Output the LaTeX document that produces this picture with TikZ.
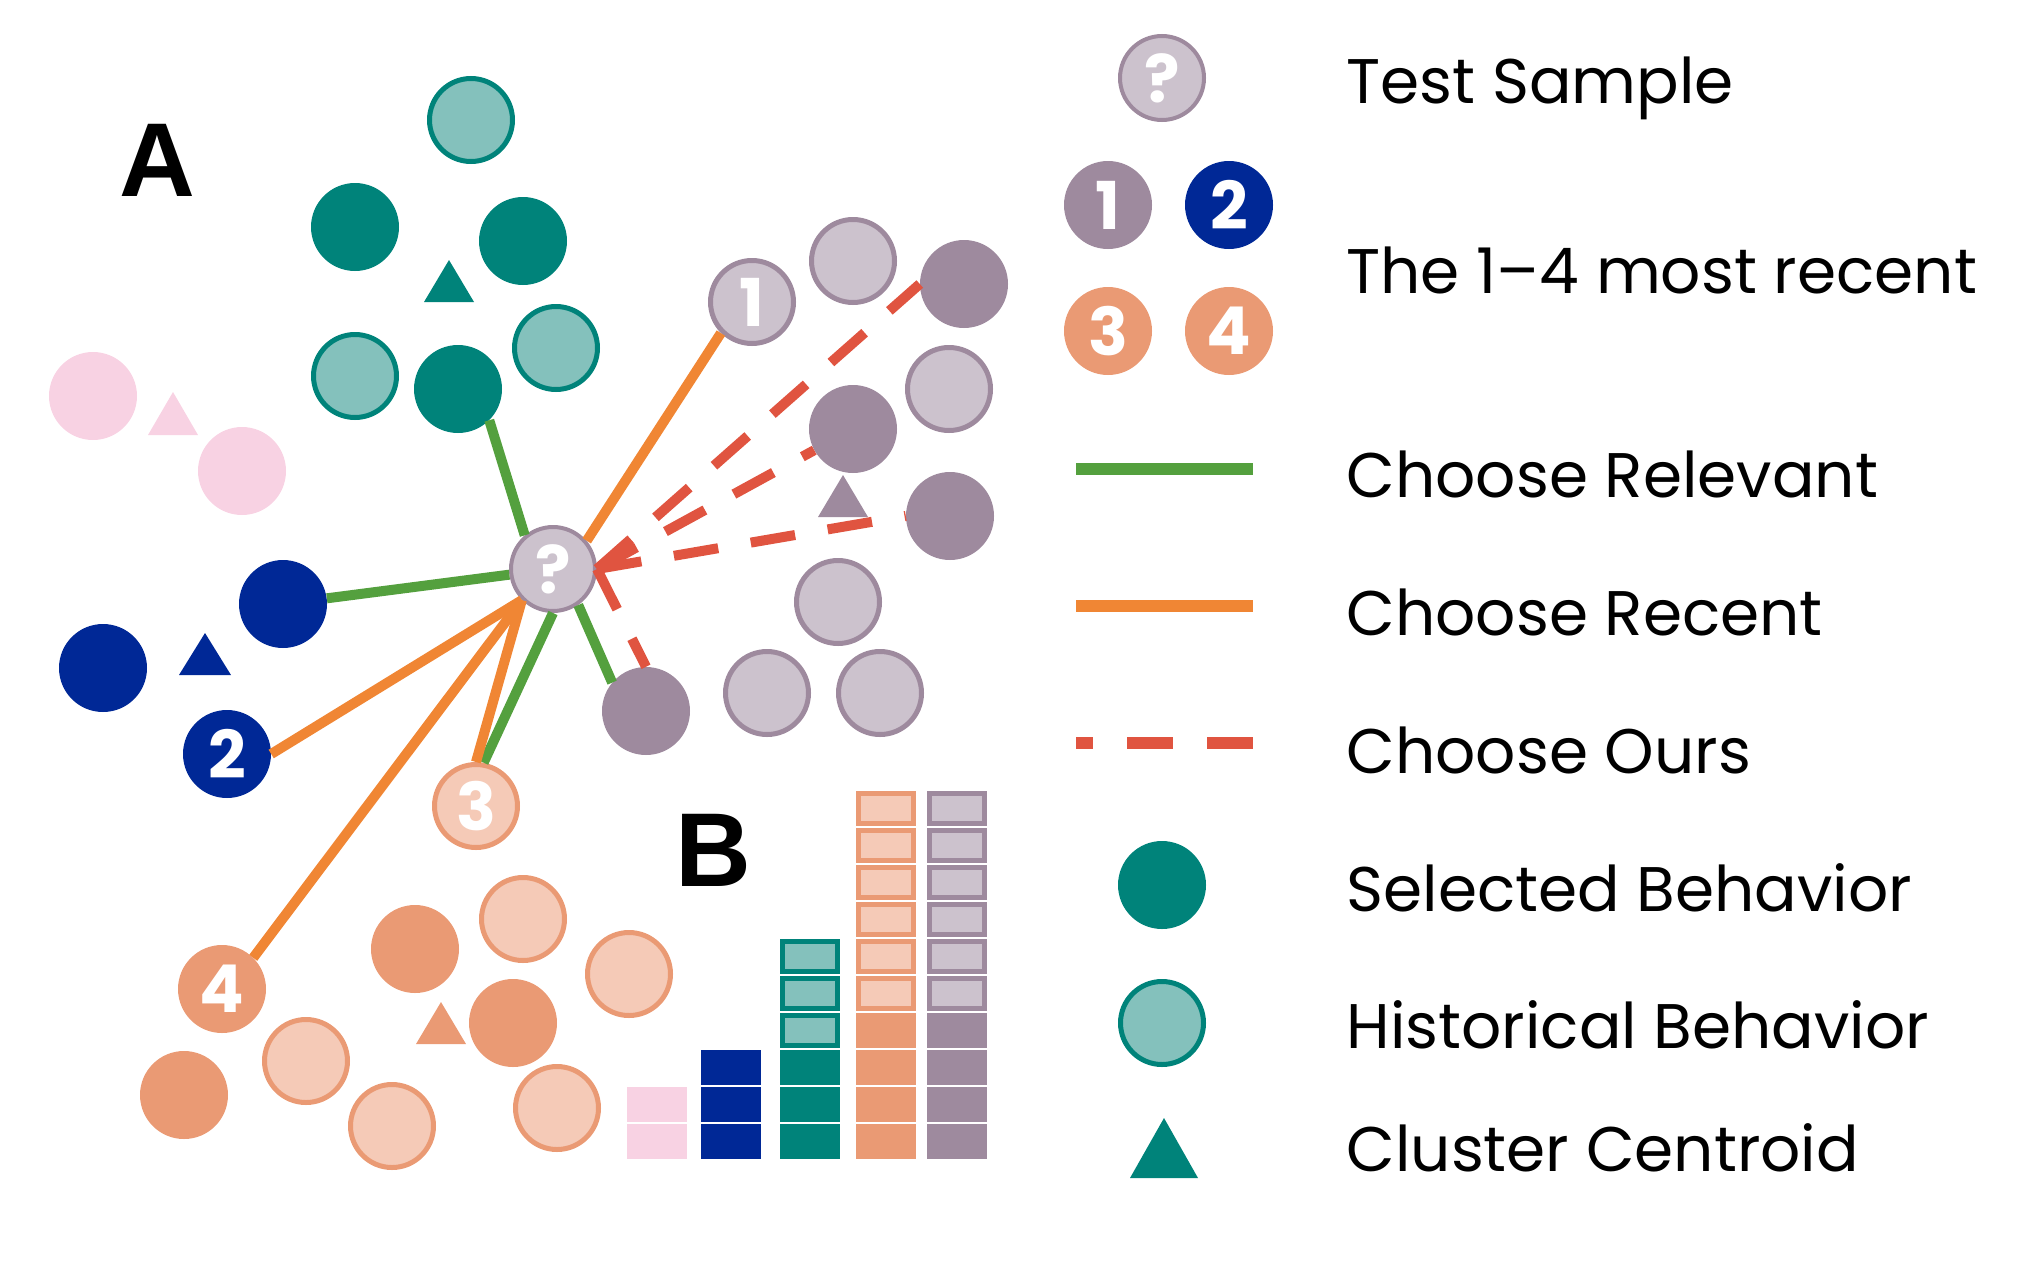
\documentclass[tikz,border=0pt]{standalone}
\usepackage{fontspec}
\setmainfont{Poppins}
\newfontfamily\panelfont{Liberation Sans}
\definecolor{tealsel}{RGB}{0,131,122}
\definecolor{tealhist}{RGB}{132,193,188}
\definecolor{pinkhist}{RGB}{248,210,227}
\definecolor{bluesel}{RGB}{0,40,150}
\definecolor{graysel}{RGB}{158,138,158}
\definecolor{grayhist}{RGB}{204,194,205}
\definecolor{orangesel}{RGB}{234,154,116}
\definecolor{orangehist}{RGB}{245,202,183}
\definecolor{relgreen}{RGB}{84,160,62}
\definecolor{recorange}{RGB}{240,134,52}
\definecolor{oursred}{RGB}{224,84,64}
\begin{document}
\begin{tikzpicture}[x=1pt,y=-1pt,
    sel/.style={circle,fill=#1,minimum size=88pt,inner sep=0pt,text=white,
      font=\fontsize{66}{66}\selectfont\bfseries},
    hist/.style 2 args={circle,fill=#1,draw=#2,line width=5pt,minimum size=83pt,
      inner sep=0pt,text=white,font=\fontsize{66}{66}\selectfont\bfseries},
    relevant/.style={relgreen,line width=10pt},
    recent/.style={recorange,line width=10pt},
    ours/.style={oursred,line width=10pt,dash pattern=on 45pt off 33pt},
    legendtext/.style={anchor=base west,font=\fontsize{63}{63}\selectfont}]
\useasboundingbox (0,0) rectangle (2025,1282);
\node[font=\fontsize{105}{105}\selectfont\bfseries\panelfont] (pA) at (157,160) {A};
\node[font=\fontsize{105}{105}\selectfont\bfseries\panelfont] (pB) at (713,850) {B};
% teal cluster
\node[hist={tealhist}{tealsel}] (th1) at (471,120) {};
\node[sel=tealsel] (ts1) at (355,227) {};
\node[sel=tealsel] (ts2) at (523,241) {};
\node[hist={tealhist}{tealsel}] (th2) at (355,376) {};
\node[sel=tealsel] (ts3) at (458,389) {};
\node[hist={tealhist}{tealsel}] (th3) at (556,348) {};
\fill[tealsel] (449,302) ++(-25,0) -- ++(50,0) -- ++(-25,-42) -- cycle;
% pink cluster
\node[sel=pinkhist] (p1) at (93,396) {};
\node[sel=pinkhist] (p2) at (242,471) {};
\fill[pinkhist] (173,435) ++(-25,0) -- ++(50,0) -- ++(-25,-43) -- cycle;
% blue cluster
\node[sel=bluesel] (b1) at (283,604) {};
\node[sel=bluesel] (b2) at (103,668) {};
\node[sel=bluesel] (n2) at (227,754) {2};
\fill[bluesel] (205,675) ++(-26,0) -- ++(52,0) -- ++(-26,-42) -- cycle;
% gray cluster
\node[hist={grayhist}{graysel}] (n1) at (752,302) {1};
\node[hist={grayhist}{graysel}] (gh1) at (853,261) {};
\node[sel=graysel] (gd1) at (964,284) {};
\node[hist={grayhist}{graysel}] (gh2) at (949,389) {};
\node[sel=graysel] (gd2) at (853,429) {};
\node[sel=graysel] (gd3) at (950,516) {};
\node[hist={grayhist}{graysel}] (gh3) at (838,602) {};
\node[sel=graysel] (gd4) at (646,711) {};
\node[hist={grayhist}{graysel}] (gh4) at (767,693) {};
\node[hist={grayhist}{graysel}] (gh5) at (880,693) {};
\fill[graysel] (843,517) ++(-25,0) -- ++(50,0) -- ++(-25,-42) -- cycle;
% orange cluster
\node[hist={orangehist}{orangesel}] (n3) at (476,806) {3};
\node[sel=orangesel] (n4) at (222,989) {4};
\node[sel=orangesel] (os1) at (415,949) {};
\node[hist={orangehist}{orangesel}] (oh1) at (523,919) {};
\node[hist={orangehist}{orangesel}] (oh2) at (629,974) {};
\node[sel=orangesel] (os2) at (513,1023) {};
\node[sel=orangesel] (os3) at (184,1095) {};
\node[hist={orangehist}{orangesel}] (oh3) at (306,1061) {};
\node[hist={orangehist}{orangesel}] (oh4) at (392,1126) {};
\node[hist={orangehist}{orangesel}] (oh5) at (557,1108) {};
\fill[orangesel] (441,1044) ++(-25,0) -- ++(50,0) -- ++(-25,-42) -- cycle;
% test sample
\node[hist={grayhist}{graysel},line width=4pt,minimum size=84pt] (q) at (553,569) {?};
\draw[relevant] (q.130) -- (ts3.-45);
\draw[relevant] (q) -- (b1);
\draw[relevant] (q.south) -- (n3.80);
\draw[relevant] (q.305) -- (gd4.140);
\draw[recent] (q.40) -- (n1.225);
\draw[recent] (q.225) -- (n2.east);
\draw[recent] (q.225) -- (n3.north);
\draw[recent] (q.225) -- (n4.45);
\draw[ours] (q.east) -- (gd1.west);
\draw[ours] (q.east) -- (gd2);
\draw[ours] (q.east) -- (gd3.west);
\draw[ours] (q.east) -- (gd4.north);
% bars
\foreach \i in {0,1}
  \fill[pinkhist] (627,1160-37*\i-1) rectangle ++(60,-35);
\foreach \i in {0,1,2}
  \fill[bluesel] (701,1160-37*\i-1) rectangle ++(60,-35);
\foreach \x/\s/\h/\dark/\light in {780/3/3/tealsel/tealhist,856/4/6/orangesel/orangehist,927/4/6/graysel/grayhist}{
  \foreach \i in {1,...,\s}
    \fill[\dark] (\x,1160-37*\i+36) rectangle ++(60,-35);
  \foreach \i in {1,...,\h}
    \draw[\dark,fill=\light,line width=5pt] (\x+2.5,1160-37*\s-37*\i+33.5) rectangle ++(55,-30);
}
% legend
\node[hist={grayhist}{graysel},line width=4pt,minimum size=84pt] (lq) at (1162,78) {?};
\node[sel=graysel] (l1) at (1108,205) {1};
\node[sel=bluesel] (l2) at (1229,205) {2};
\node[sel=orangesel] (l3) at (1108,331) {3};
\node[sel=orangesel] (l4) at (1229,331) {4};
\draw[relgreen,line width=12pt] (1076,469) -- (1253,469);
\draw[recorange,line width=12pt] (1076,606) -- (1253,606);
\draw[oursred,line width=12pt,dash pattern=on 46pt off 34pt,dash phase=29pt] (1076,743) -- (1253,743);
\node[sel=tealsel] (lsel) at (1162,885) {};
\node[hist={tealhist}{tealsel}] (lhist) at (1162,1023) {};
\fill[tealsel] (1164,1178) ++(-34,0) -- ++(68,0) -- ++(-34,-60) -- cycle;
\node[legendtext] (t1) at (1343,103) {Test Sample};
\node[legendtext] (t2) at (1343,293) {The 1--4 most recent};
\node[legendtext] (t3) at (1343,497) {Choose Relevant};
\node[legendtext] (t4) at (1343,635) {Choose Recent};
\node[legendtext] (t5) at (1343,773) {Choose Ours};
\node[legendtext] (t6) at (1343,911) {Selected Behavior};
\node[legendtext] (t7) at (1343,1048) {Historical Behavior};
\node[legendtext] (t8) at (1343,1171) {Cluster Centroid};
\end{tikzpicture}
\end{document}
